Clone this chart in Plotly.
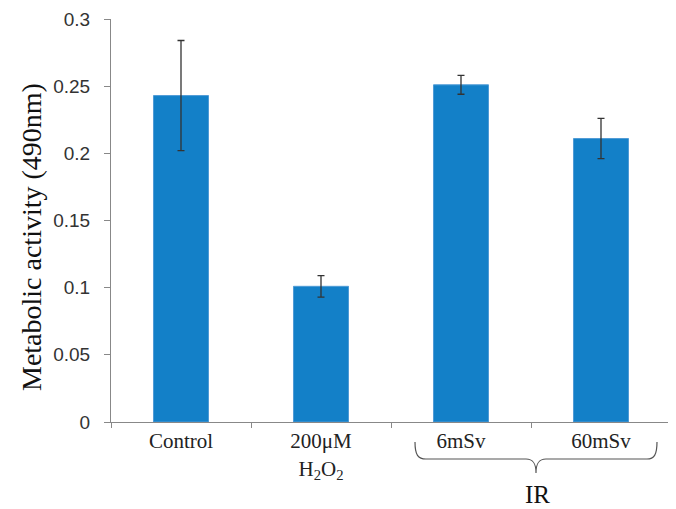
import plotly.graph_objects as go

categories = ["Control", "200μM<br>H<sub>2</sub>O<sub>2</sub>", "6mSv", "60mSv"]
values = [0.243, 0.101, 0.251, 0.211]
errors = [0.041, 0.008, 0.007, 0.015]
y_ticks = [0, 0.05, 0.1, 0.15, 0.2, 0.25, 0.3]
y_title = "Metabolic activity (490nm)"
group_label = "IR"

OFF = 8  # page body margin
W, H = 676 - OFF, 509 - OFF
L, R, T, B = 111 - OFF, 5, 19 - OFF, 509 - 422
PW, PH = W - L - R, H - T - B

def px(x):
    return (x - OFF - L) / PW

def py(y):
    return (H - B - (y - OFF)) / PH

fig = go.Figure()
fig.add_trace(go.Bar(
    x=categories, y=values,
    marker=dict(color="#1380C8", line=dict(color="#4f9bd6", width=1)),
    error_y=dict(type="data", array=errors, visible=True,
                 color="#333333", thickness=1.3, width=3.5),
))

# brace under the IR group
path = "M {},{} C {},{} {},{} {},{} L {},{} C {},{} {},{} {},{} C {},{} {},{} {},{} L {},{} C {},{} {},{} {},{}".format(
    px(415), py(442), px(415), py(455), px(418), py(459), px(426), py(459),
    px(526), py(459),
    px(533), py(459), px(536), py(463), px(536), py(473),
    px(536), py(463), px(539), py(459), px(546), py(459),
    px(647), py(459),
    px(654), py(459), px(657), py(455), px(657), py(442))
fig.add_shape(type="path", xref="paper", yref="paper", path=path,
              line=dict(color="#555555", width=1.2))

fig.add_annotation(text=group_label, xref="paper", yref="paper",
                   x=px(537), y=py(494.5), xanchor="center", yanchor="middle", showarrow=False,
                   borderpad=0,
                   font=dict(family="Liberation Serif", size=25, color="#111111"))
fig.add_annotation(text=y_title, xref="paper", yref="paper",
                   x=px(31), y=py(237), xanchor="center", yanchor="middle",
                   showarrow=False, textangle=-90,
                   font=dict(family="Liberation Serif", size=28, color="#111111"))

fig.update_layout(
    width=W, height=H,
    margin=dict(l=L, r=R, t=T, b=B, autoexpand=False),
    plot_bgcolor="white", paper_bgcolor="white",
    bargap=0.607, showlegend=False,
    xaxis=dict(type="category", automargin=False, showline=True, linecolor="#888888", linewidth=1,
               ticks="outside", tickson="boundaries", ticklen=5, tickcolor="#888888",
               tickfont=dict(family="Liberation Serif", size=21, color="#222222"),
               showgrid=False, zeroline=False),
    yaxis=dict(range=[0, 0.3], tickvals=y_ticks, automargin=False, showline=True, linecolor="#888888",
               linewidth=1, ticks="outside", ticklen=6, tickcolor="#888888",
               tickfont=dict(family="Liberation Sans", size=19, color="#333333"),
               ticklabelstandoff=10,
               showgrid=False, zeroline=False),
)

fig.write_html("out.html")
